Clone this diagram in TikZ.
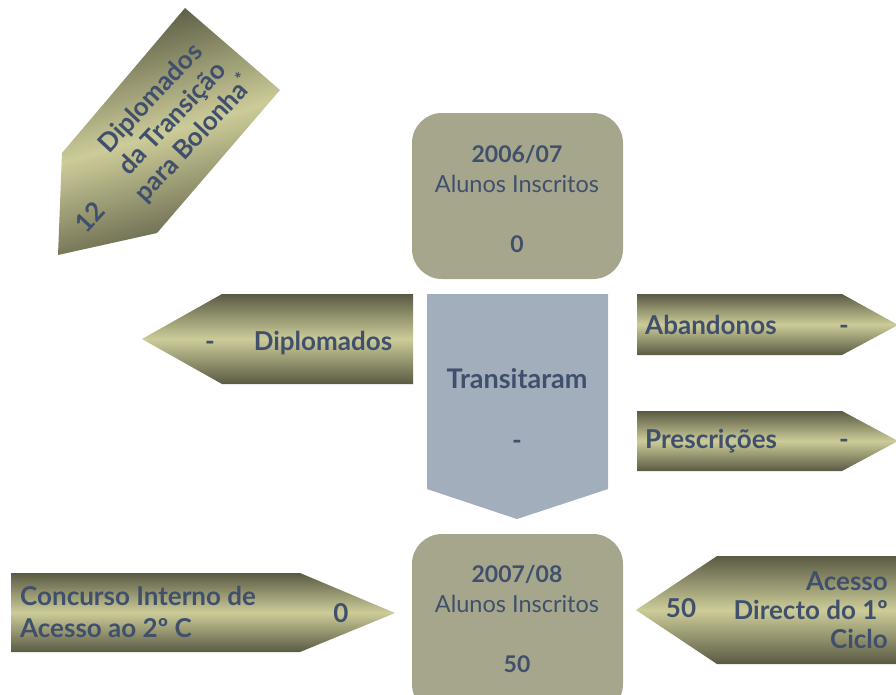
\documentclass[tikz,border=0pt]{standalone}
\usepackage{fontspec}
\setmainfont{Lato}
\definecolor{txtblue}{RGB}{64,80,108}
\definecolor{boxolive}{RGB}{166,166,141}
\definecolor{boxblue}{RGB}{162,174,188}
\definecolor{olivedark}{RGB}{90,90,68}
\definecolor{olivelight}{RGB}{204,204,153}
\begin{document}
\begin{tikzpicture}[x=1pt,y=-1pt,
  olivearrow/.style={top color=olivedark,bottom color=olivedark,middle color=olivelight,draw=none},
  yearbox/.style={fill=boxolive,draw=none,rounded corners=30pt},
  lbl/.style={text=txtblue,inner sep=0pt,anchor=base,font=\bfseries\fontsize{26}{30}\selectfont},
  lblyear/.style={lbl,font=\bfseries\fontsize{23}{30}\selectfont},
  lblreg/.style={text=txtblue,inner sep=0pt,anchor=base,font=\fontsize{23.5}{30}\selectfont}]
\useasboundingbox (0,0) rectangle (896,694);

%Shape: Rounded Rect 2006/07
\path [yearbox] (412,113) rectangle (623,279);
%Shape: Rounded Rect 2007/08
\path [yearbox] (412,534) rectangle (623,714);
%Shape: Pentagon Transitaram
\path [fill=boxblue] (427,294) -- (608,294) -- (608,489) -- (517,519) -- (427,489) -- cycle;
%Shape: Arrow Diplomados
\path [olivearrow] (413,294) -- (413,384) -- (222,384) -- (142,339) -- (222,294) -- cycle;
%Shape: Arrow Abandonos
\path [olivearrow] (637,294) -- (842,294) -- (898,325) -- (842,355) -- (637,355) -- cycle;
%Shape: Arrow Prescricoes
\path [olivearrow] (637,411) -- (842,411) -- (898,441) -- (842,471) -- (637,471) -- cycle;
%Shape: Arrow Concurso Interno
\path [olivearrow] (11,573) -- (300,573) -- (395,613) -- (300,652) -- (11,652) -- cycle;
%Shape: Arrow Acesso Directo
\path [olivearrow] (636,610) -- (717,556) -- (910,556) -- (910,664) -- (717,664) -- cycle;
%Shape: Arrow Bolonha
\path [olivearrow,shading angle=16] (185,8) -- (280,90) -- (157,233) -- (58,255) -- (62,153) -- cycle;

% Text Node
\node [lblyear] (yr1) at (517,162) {2006/07};
\node [lblreg] (al1) at (517,192) {Alunos Inscritos};
\node [lblyear] (n1) at (517,252) {0};
% Text Node
\node [lblyear] (yr2) at (517,582) {2007/08};
\node [lblreg] (al2) at (517,612) {Alunos Inscritos};
\node [lblyear] (n2) at (517,672) {50};
% Text Node
\node [lbl,font=\bfseries\fontsize{27}{30}\selectfont] (trans) at (517,388) {Transitaram};
\node [lbl] (ntrans) at (517,449) {-};
% Text Node
\node [lbl] (ndipl) at (210,350) {-};
\node [lbl] (dipl) at (323,350) {Diplomados};
% Text Node
\node [lbl,anchor=base west] (aband) at (645,334) {Abandonos};
\node [lbl] (naband) at (844,334) {-};
\node [lbl,anchor=base west] (presc) at (645,448) {Prescrições};
\node [lbl] (npresc) at (844,448) {-};
% Text Node
\node [lbl,anchor=west,align=left,font=\bfseries\fontsize{26}{32}\selectfont] (conc) at (20,612) {Concurso Interno de\\Acesso ao 2º C};
\node [lbl] (nconc) at (341,622) {0};
% Text Node
\node [lbl] (nacess) at (681,617) {50};
\node [lbl,anchor=east,align=right,font=\bfseries\fontsize{26}{29}\selectfont] (acess) at (888,610) {Acesso\\Directo do 1º\\Ciclo};
% Text Node
\node [lbl,anchor=center,align=center,rotate=47] (bolo) at (173,119) {Diplomados\\da Transição\\para Bolonha\textsuperscript{*}};
\node [lbl,anchor=center,rotate=47] (nbolo) at (90,217) {12};

\end{tikzpicture}
\end{document}
